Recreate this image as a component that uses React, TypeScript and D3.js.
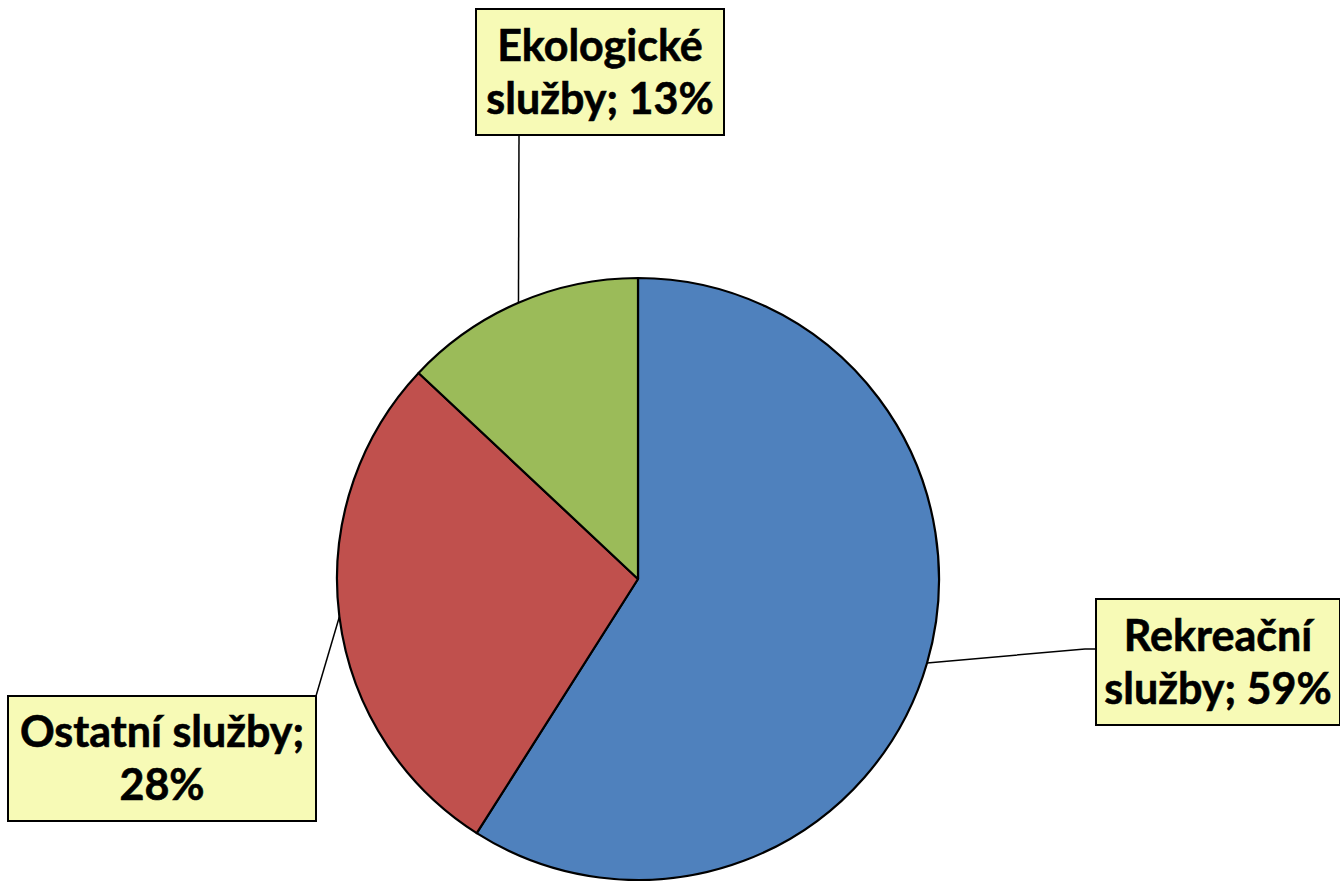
import React from "react";
import * as d3 from "d3";

const categories = ["Rekreační služby", "Ostatní služby", "Ekologické služby"];
const values = [59, 28, 13];
const labelLines = [
  ["Rekreační", "služby; 59%"],
  ["Ostatní služby;", "28%"],
  ["Ekologické", "služby; 13%"],
];
const colors = ["#4F81BD", "#C0504D", "#9BBB59"];

const W = 1340;
const H = 881;
const cx = 638;
const cy = 579;
const R = 301;

// label box layout: [x, y, w, h] and the point where the leader meets the box
const boxes = [
  { x: 1096, y: 599, w: 244, h: 126, elbow: [1085, 649], join: [1096, 649] },
  { x: 8, y: 696, w: 308, h: 125, elbow: null, join: [316, 696] },
  { x: 476, y: 9, w: 248, h: 126, elbow: null, join: [519, 135] },
];

export default function App() {
  const pie = d3.pie<number>().sort(null).value((d) => d);
  const arcs = pie(values);
  const arc = d3.arc<d3.PieArcDatum<number>>().innerRadius(0).outerRadius(R);
  const fontSize = 43;
  const lineGap = 53;

  return (
    <div style={{ position: "fixed", left: 0, top: 0, width: W, height: H, background: "#fff" }}>
      <svg width={W} height={H} style={{ display: "block" }}>
        <g transform={`translate(${cx},${cy})`}>
          {arcs.map((a, i) => (
            <path key={categories[i]} d={arc(a) || ""} fill={colors[i]} stroke="#000" strokeWidth={2.2} strokeLinejoin="round" />
          ))}
        </g>
        {arcs.map((a, i) => {
          const mid = (a.startAngle + a.endAngle) / 2;
          const px = cx + R * Math.sin(mid);
          const py = cy - R * Math.cos(mid);
          const b = boxes[i];
          const pts: [number, number][] = [[px, py]];
          if (b.elbow) pts.push(b.elbow as [number, number]);
          pts.push(b.join as [number, number]);
          const line = d3.line()(pts) || "";
          return <path key={"l" + i} d={line} fill="none" stroke="#000" strokeWidth={1.5} />;
        })}
        {boxes.map((b, i) => {
          const centerY = b.y + b.h / 2;
          const capH = fontSize * 0.72;
          return (
            <g key={"b" + i}>
              <rect x={b.x} y={b.y} width={b.w} height={b.h} fill="#F7FAB6" stroke="#000" strokeWidth={2} />
              {labelLines[i].map((t, j) => (
                <text
                  key={j}
                  x={b.x + b.w / 2}
                  y={centerY + (j - 0.5) * lineGap + capH / 2}
                  textAnchor="middle"
                  fontFamily="Lato, 'Open Sans', sans-serif"
                  fontWeight={700}
                  fontSize={fontSize}
                  fill="#000"
                  stroke="#000"
                  strokeWidth={0.6}
                >
                  {t}
                </text>
              ))}
            </g>
          );
        })}
      </svg>
    </div>
  );
}
